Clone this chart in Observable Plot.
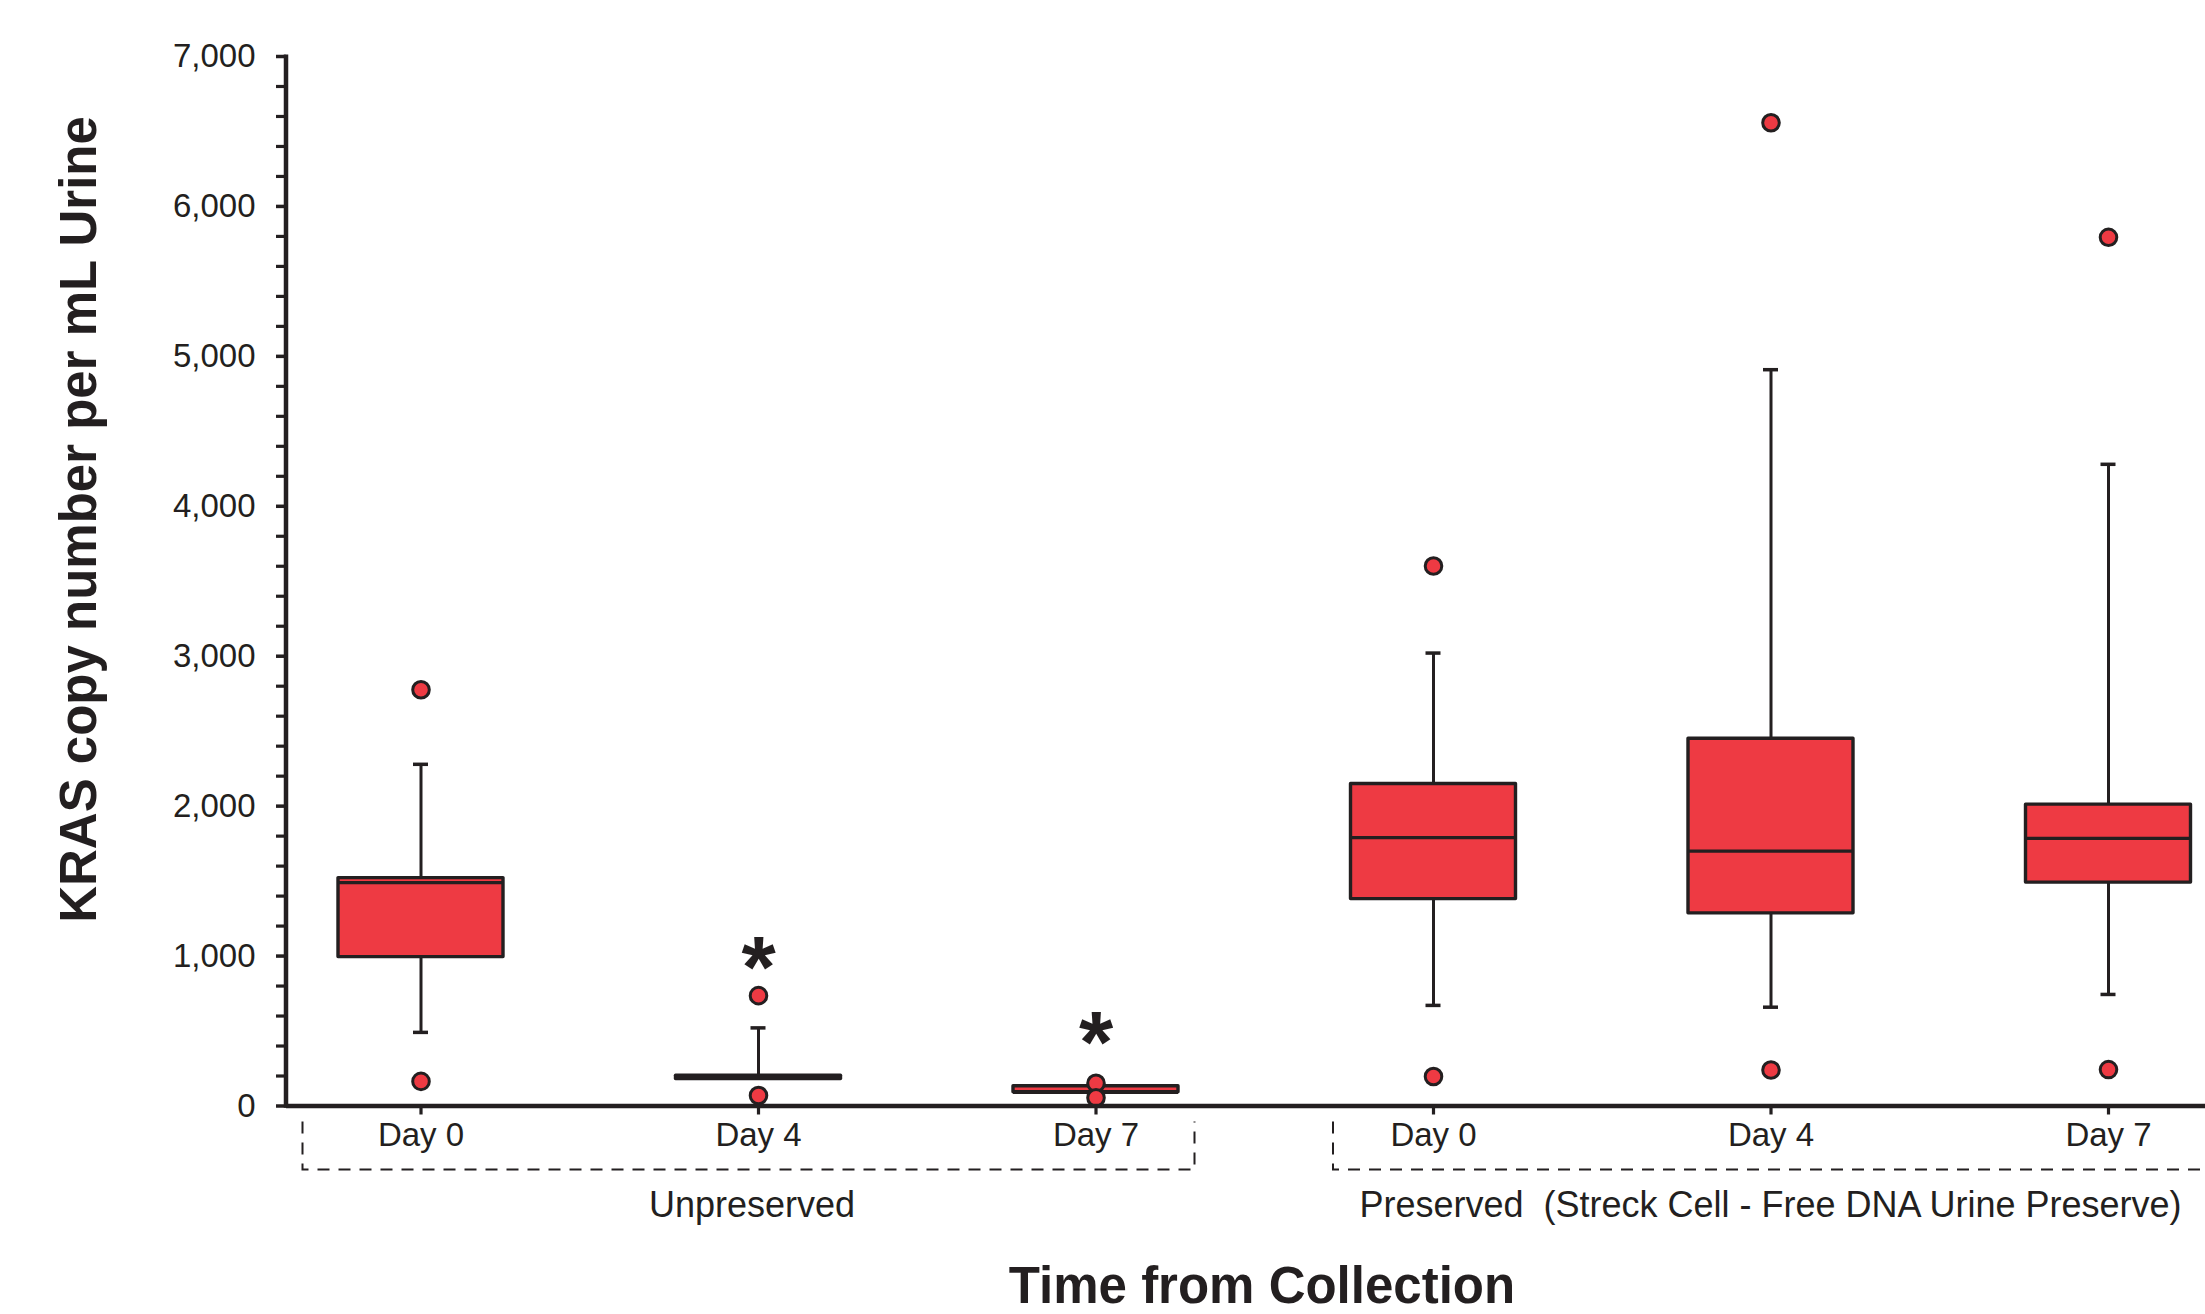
<!DOCTYPE html>
<html><head><meta charset="utf-8">
<script src="https://cdn.jsdelivr.net/npm/d3@7"></script>
<script src="https://cdn.jsdelivr.net/npm/@observablehq/plot@0.6"></script>
<style>
html,body{margin:0;padding:0;background:#fff;}
#chart{width:2205px;height:1314px;overflow:hidden;}
</style></head><body><div id="chart"></div>
<script>
// ---- data ----
const keys = ["U0","U4","U7","P0","P4","P7"];
const dayLabels = ["Day 0","Day 4","Day 7","Day 0","Day 4","Day 7"];
const groupNames = ["Unpreserved","Preserved  (Streck Cell - Free DNA Urine Preserve)"];
const groupKeys = [["U0","U4","U7"],["P0","P4","P7"]];
const whiskerLow  = [491, null, null, 671, 659, 744];
const q1          = [993, 180,  92, 1380, 1285, 1490];
const median      = [1490, 191, 92, 1790, 1700, 1785];
const q3          = [1520, 202, 132, 2148, 2450, 2010];
const whiskerHigh = [2279, 521, null, 3021, 4911, 4280];
const outliers    = [[2776,164],[736,70],[152,55],[3602,197],[6558,240],[5794,243]];
const sigMarkY    = [null, 1027, 530, null, null, null];
const yMajorTicks = [0,1000,2000,3000,4000,5000,6000,7000];
const yMinorTicks = [200,400,600,800,1200,1400,1600,1800,2200,2400,2600,2800,3200,3400,3600,3800,
                     4200,4400,4600,4800,5200,5400,5600,5800,6200,6400,6600,6800];
const yTitle = "KRAS copy number per mL Urine";
const xTitle = "Time from Collection";

// ---- styling ----
const RED = "#EE3A43", INK = "#231f20";
const FONT = "'Liberation Sans', Arial, Helvetica, sans-serif";
const W = 2205, H = 1314;
const axisX0 = 286, step = 337.5, bw = 165, firstCenter = 420.5;
const pIn = 1 - bw / step;
const pOut = (firstCenter - bw / 2 - axisX0) / step;
const rangeEnd = axisX0 + step * (keys.length - pIn + 2 * pOut);

const rows = keys.map((k, i) => ({key: k, q1: q1[i], med: median[i], q3: q3[i]}));
const whiskers = [], caps = [];
keys.forEach((k, i) => {
  if (whiskerHigh[i] != null) { whiskers.push({key: k, y1: q3[i], y2: whiskerHigh[i]}); caps.push({key: k, v: whiskerHigh[i]}); }
  if (whiskerLow[i] != null) { whiskers.push({key: k, y1: whiskerLow[i], y2: q1[i]}); caps.push({key: k, v: whiskerLow[i]}); }
});
const outs = keys.flatMap((k, i) => outliers[i].map(v => ({key: k, v})));
const sig = keys.map((k, i) => ({key: k, v: sigMarkY[i]})).filter(d => d.v != null);

const plot = Plot.plot({
  width: W, height: H,
  marginLeft: axisX0, marginRight: 0, marginTop: 56, marginBottom: H - 1105.5,
  style: {fontFamily: FONT, color: INK, background: "#fff", overflow: "visible"},
  x: {type: "band", domain: keys, range: [axisX0, rangeEnd], paddingInner: pIn, paddingOuter: pOut, align: 0.5, round: false},
  y: {domain: [0, 7000]},
  marks: [
    Plot.axisY(yMinorTicks, {tickSize: 10, tickFormat: () => "", stroke: INK, strokeWidth: 3.2, label: null}),
    Plot.axisY(yMajorTicks, {tickSize: 10, tickPadding: 21, tickFormat: d3.format(","), fontSize: 33, stroke: INK, strokeWidth: 3.5, label: null}),
    Plot.axisX({tickSize: 9, tickPadding: 8, tickFormat: d => dayLabels[keys.indexOf(d)], fontSize: 33, stroke: INK, strokeWidth: 3.2, label: null}),
    Plot.ruleX(whiskers, {x: "key", y1: "y1", y2: "y2", stroke: INK, strokeWidth: 3}),
    Plot.tickY(caps, {x: "key", y: "v", stroke: INK, strokeWidth: 3.5, insetLeft: (bw - 15) / 2, insetRight: (bw - 15) / 2}),
    Plot.barY(rows, {x: "key", y1: "q1", y2: "q3", fill: RED, stroke: INK, strokeWidth: 3.4, strokeLinejoin: "round"}),
    Plot.tickY(rows, {x: "key", y: "med", stroke: INK, strokeWidth: 3.4}),
    Plot.dot(outs, {x: "key", y: "v", r: 8.3, fill: RED, stroke: INK, strokeWidth: 3}),
    Plot.text(sig, {x: "key", y: "v", text: () => "*", fontSize: 88, fontWeight: "bold", dy: 17, fill: INK}),
    Plot.ruleY([0], {stroke: INK, strokeWidth: 4.5})
  ]
});
document.getElementById("chart").appendChild(plot);

// ---- extra annotation drawn from the plot's scales ----
const sx = plot.scale("x"), sy = plot.scale("y");
const cx = k => sx.apply(k) + sx.bandwidth / 2;
const svg = d3.select(plot);

svg.append("line")
  .attr("x1", axisX0).attr("x2", axisX0)
  .attr("y1", sy.apply(7000) - 1.5).attr("y2", sy.apply(0) + 2.25)
  .attr("stroke", INK).attr("stroke-width", 4.5);

const bTop = sy.apply(0) + 16, bBot = sy.apply(0) + 64;
const brackets = [
  {l: cx(groupKeys[0][0]) - 118, r: cx(groupKeys[0][2]) + 99},
  {l: cx(groupKeys[1][0]) - 100, r: cx(groupKeys[1][2]) + 130}
];
brackets.forEach(b => {
  svg.append("path")
    .attr("d", `M${b.l},${bTop}V${bBot}H${b.r}V${bTop}`)
    .attr("fill", "none").attr("stroke", INK).attr("stroke-width", 2)
    .attr("stroke-dasharray", "12,9");
});

groupNames.forEach((name, gi) => {
  svg.append("text")
    .attr("x", cx(groupKeys[gi][1]) - (gi === 0 ? 6 : 0)).attr("y", sy.apply(0) + 111.5)
    .attr("text-anchor", "middle").attr("font-size", 36).attr("fill", INK)
    .attr("font-family", FONT).style("white-space", "pre")
    .text(name);
});

svg.append("text")
  .attr("transform", `translate(96, 519.5) rotate(-90)`)
  .attr("text-anchor", "middle").attr("font-size", 51).attr("font-weight", "bold")
  .attr("fill", INK).attr("font-family", FONT)
  .text(yTitle);

svg.append("text")
  .attr("x", 1262).attr("y", 1303)
  .attr("text-anchor", "middle").attr("font-size", 51).attr("font-weight", "bold")
  .attr("fill", INK).attr("font-family", FONT)
  .text(xTitle);
</script>
</body></html>
